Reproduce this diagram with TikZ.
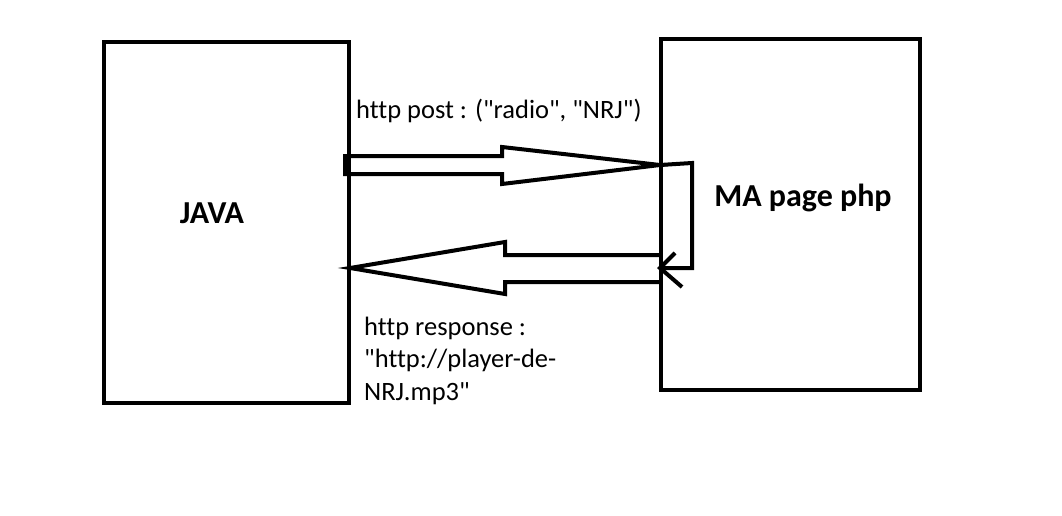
\documentclass[tikz,border=0pt]{standalone}
\usepackage{fontspec}
\setmainfont{Carlito}[Ligatures={NoCommon}]
\newcommand{\dq}{\textquotedbl}
\begin{document}
\begin{tikzpicture}[x=1pt,y=-1pt,
  box/.style={draw=black,line width=4pt,fill=none,inner sep=0pt},
  outline/.style={draw=black,line width=4pt,line join=miter},
  lbl/.style={font=\fontsize{26.5}{32.5}\selectfont,inner sep=0pt,anchor=base west},
  title/.style={font=\bfseries\fontsize{32}{36}\selectfont,inner sep=0pt,anchor=base}]
\useasboundingbox[fill=white] (0,0) rectangle (1062,516);
% boxes
\node[box,minimum width=245pt,minimum height=361pt] (java) at (226.5,222.5) {};
\node[box,minimum width=259pt,minimum height=351pt] (php) at (790.5,214.5) {};
\node[title] (javat) at (212,223) {JAVA};
\node[title] (phpt) at (803,206) {MA page php};
% top arrow (request)
\draw[outline] (345,156) -- (502,156) -- (502,147) -- (660,165) -- (502,184) -- (502,174) -- (345,174) -- cycle;
% bottom arrow (response)
\draw[outline] (661,255) -- (505,255) -- (505,242) -- (350,268) -- (505,294) -- (505,282) -- (661,282);
% loop from request to response inside php
\coordinate (tip) at (660,165);
\coordinate (back) at (660,268);
\draw[black,line width=4pt] (tip) -- (692,163) -- (692,268) -- (back);
\draw[black,line width=4pt] (675,253) -- (back) -- (682,287);
% labels
\node[lbl] (post) at (356,118) {http post : (\dq radio\dq, \dq NRJ\dq)};
\node[lbl] (resp1) at (364,335) {http response :};
\node[lbl] (resp2) at (364,367) {\dq http://player-de-};
\node[lbl] (resp3) at (364,400) {NRJ.mp3\dq};
\end{tikzpicture}
\end{document}
